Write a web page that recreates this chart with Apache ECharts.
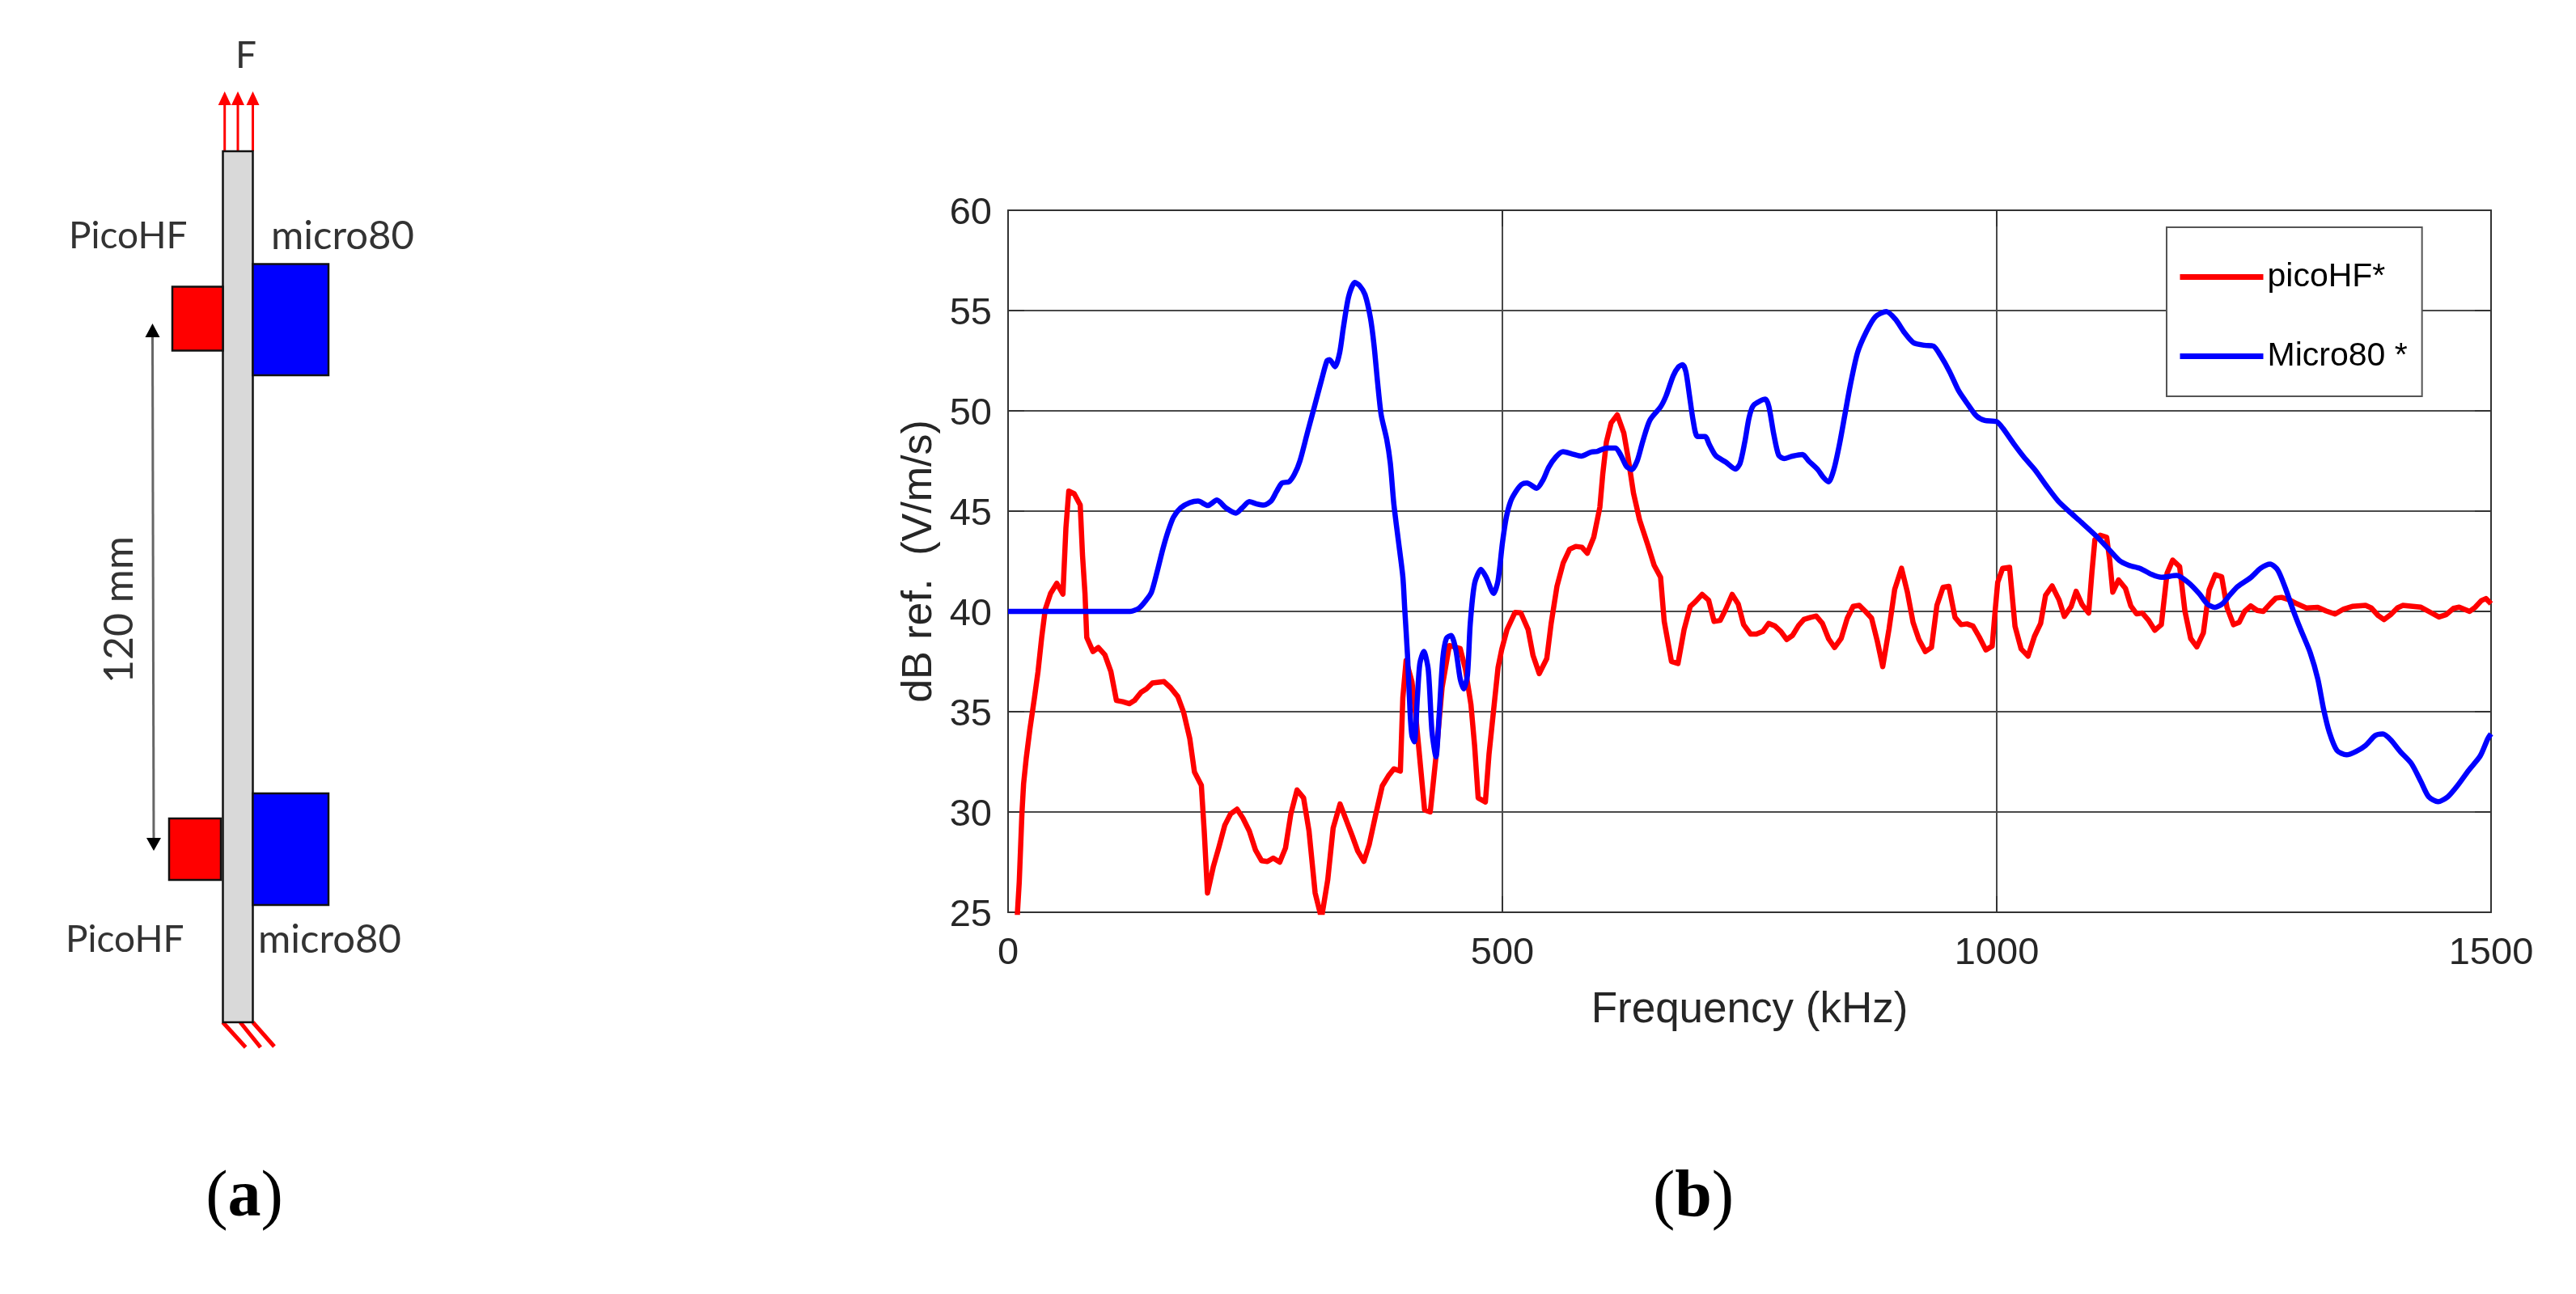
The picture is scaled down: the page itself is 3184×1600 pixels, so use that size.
<!DOCTYPE html>
<html>

	<head>
		<meta charset="UTF-8">
		<title>picoHF / Micro80</title>
		<script src="https://cdn.jsdelivr.net/npm/echarts@6/dist/echarts.min.js"></script>
		<style>
			body {
				margin: 0;
				background-color: #fff;
			}
			#main {
				width: 3184px;
				height: 1600px;
			}
		</style>
	</head>

	<body>
		<div id="main"></div>
		<script type="text/javascript">
			// values, frequency in kHz, level in dB
			var picoFreq = [8, 9.5, 11.3, 14, 15.7, 18.3, 22, 26.7, 30.3, 34, 37.6, 43, 49.3, 55.5, 58.5, 61.4, 66.9, 73, 75.3, 77.8, 79.6, 85.9, 91.3, 97.9, 104, 109.6, 116, 122.8, 127.9, 134.5, 140, 146, 157.8, 164.4, 171.7, 177.6, 183.8, 188.5, 195.5, 198.4, 201.7, 207.5, 213, 219.2, 225, 231.6, 237.5, 244, 250.3, 256.5, 262.3, 268.2, 274.8, 280.6, 286, 292.3, 298.9, 304.4, 310.6, 317, 323.3, 328.8, 335.8, 341.6, 348.2, 353.7, 359.9, 365.4, 372, 378.5, 384.7, 390.2, 396.8, 399.3, 402.6, 408.5, 412, 415.8, 421.3, 427, 432.8, 439, 446.3, 457.3, 462.7, 468.2, 471.9, 475.5, 482.8, 486.5, 492, 495.6, 499.3, 504.7, 512.8, 518.6, 526, 531, 537.3, 544.9, 549.3, 555.2, 561.4, 568, 574.2, 580.4, 585.9, 592.4, 598.6, 601.5, 605.2, 610, 616.2, 622.8, 627.2, 632.6, 638.8, 647.2, 653.5, 660, 663.7, 671, 677.6, 683.8, 690, 695.5, 702, 708.6, 714.1, 720.3, 725.8, 732.4, 738.6, 744, 751, 756.9, 763.4, 769.3, 775.8, 781.7, 787.5, 793.4, 799.6, 805, 811.7, 817.5, 823.7, 830, 836, 842.7, 848.9, 854.8, 861, 867.2, 873.4, 879.3, 884.7, 891, 896.8, 903.7, 909.6, 915.4, 921.3, 927.8, 934, 939.5, 945.7, 951.6, 957.8, 964, 969.9, 976, 982.3, 989, 995.4, 998.5, 1001, 1006, 1013, 1018.5, 1024.7, 1031.7, 1038.2, 1044.4, 1049.4, 1056, 1063, 1068.4, 1075.3, 1080.3, 1086.5, 1093, 1096.2, 1099.3, 1104.7, 1111.2, 1114.3, 1117.4, 1123.2, 1130.2, 1135.6, 1141.4, 1147.2, 1153.7, 1159.9, 1166.5, 1172.3, 1178, 1185, 1190.4, 1196.2, 1202.4, 1209, 1214.8, 1221, 1227.5, 1232.9, 1239.5, 1245.3, 1250.7, 1256.9, 1263.4, 1269.6, 1276.6, 1282.3, 1288.1, 1295.9, 1303.6, 1313.2, 1324.8, 1333.3, 1342.2, 1351, 1359.6, 1373.1, 1378.9, 1385.9, 1391.7, 1398.3, 1405.2, 1410.6, 1429.1, 1436.9, 1447.3, 1454.3, 1462, 1467.8, 1478.3, 1484, 1490.2, 1494.8, 1500];
			var picoDb = [22, 25, 26.5, 29.9, 31.4, 32.65, 34.1, 35.7, 37, 38.7, 40.1, 40.9, 41.4, 40.86, 44.15, 46, 45.87, 45.3, 42.8, 40.9, 38.7, 38, 38.2, 37.84, 37, 35.56, 35.5, 35.4, 35.56, 35.97, 36.14, 36.43, 36.5, 36.2, 35.75, 34.96, 33.66, 32, 31.33, 29.05, 25.96, 27.25, 28.2, 29.34, 29.9, 30.14, 29.7, 29.05, 28.1, 27.57, 27.53, 27.7, 27.5, 28.2, 29.9, 31.1, 30.7, 29.05, 25.96, 24.7, 26.6, 29.2, 30.4, 29.65, 28.8, 28.05, 27.54, 28.4, 29.9, 31.3, 31.8, 32.15, 32.04, 35.7, 37.55, 36.5, 35, 33, 30.1, 30, 32.75, 36.2, 38.3, 38.15, 37.1, 35.35, 33.3, 30.7, 30.5, 32.9, 35.5, 37.2, 38.1, 39.1, 39.95, 39.93, 39.1, 37.8, 36.9, 37.65, 39.4, 41.25, 42.4, 43.1, 43.24, 43.2, 42.9, 43.7, 45.2, 46.84, 48.45, 49.4, 49.8, 48.9, 47.65, 45.9, 44.56, 43.3, 42.3, 41.7, 39.5, 37.5, 37.4, 39.1, 40.25, 40.5, 40.85, 40.56, 39.5, 39.55, 40.1, 40.85, 40.36, 39.34, 38.87, 38.87, 39, 39.4, 39.27, 39, 38.6, 38.8, 39.3, 39.6, 39.7, 39.77, 39.4, 38.63, 38.2, 38.66, 39.67, 40.25, 40.3, 40, 39.67, 38.5, 37.25, 39.1, 41.1, 42.15, 40.97, 39.45, 38.6, 38, 38.2, 40.3, 41.2, 41.25, 39.7, 39.34, 39.38, 39.27, 38.73, 38.08, 38.27, 40.08, 41.45, 42.15, 42.2, 39.26, 38.13, 37.77, 38.76, 39.4, 40.8, 41.27, 40.58, 39.75, 40.25, 41, 40.33, 39.92, 41.9, 43.58, 43.8, 43.7, 42.56, 40.96, 41.57, 41.15, 40.28, 39.88, 39.92, 39.55, 39.06, 39.34, 41.9, 42.56, 42.23, 40, 38.65, 38.23, 38.93, 41.07, 41.83, 41.73, 40.2, 39.34, 39.46, 40, 40.28, 40.05, 40, 40.38, 40.66, 40.7, 40.58, 40.38, 40.17, 40.2, 40.02, 39.87, 40.12, 40.25, 40.3, 40.17, 39.79, 39.59, 39.83, 40.17, 40.3, 40.21, 40, 39.72, 39.83, 40.15, 40.21, 40, 40.21, 40.54, 40.64, 40.38];

			var microFreq = [0, 123.5, 132.6, 140, 145, 150.9, 156.4, 161.9, 167.3, 174.6, 183.8, 192.2, 202, 211.2, 220.3, 230.5, 236.8, 244, 251.4, 258.7, 266, 271.5, 277, 284.3, 289.7, 295.2, 302.5, 309.8, 317.1, 322.6, 325.2, 330.7, 335.4, 339, 344.5, 350.8, 355.5, 361, 366.5, 370.1, 373.8, 377.4, 382.9, 386.6, 390.2, 394.6, 399.3, 401.2, 404, 406.6, 408.5, 411, 414, 416.5, 420.5, 425, 428.8, 432.8, 436, 439.7, 443.4, 448.1, 452.9, 457.3, 460.9, 464.6, 467.5, 471.9, 478.4, 483.6, 491.2, 495.6, 500, 504, 508.4, 513.9, 519.4, 524.8, 534.7, 541.3, 546.8, 554.1, 561.4, 570.5, 579.7, 589.5, 596.1, 605.2, 614.4, 619.9, 625.4, 630.8, 636.3, 641.8, 649.1, 660, 665.5, 672.8, 678.3, 682.3, 685.6, 689.3, 692.9, 697.3, 705, 709.3, 715.9, 725.8, 735.7, 740.4, 745.2, 749.5, 753.9, 766, 769.6, 774.4, 779.5, 785, 793.4, 803.6, 809.8, 819, 824.4, 829.9, 835.4, 840.9, 846.4, 851.9, 859.2, 868.3, 877.4, 888.4, 897.5, 906.7, 915.8, 926.8, 935.9, 943.2, 952.4, 961.5, 970.6, 979.8, 988, 1000, 1006.2, 1017.8, 1027.4, 1039, 1050.6, 1062.2, 1073.8, 1085.4, 1100.8, 1112.4, 1124, 1133.6, 1145.2, 1156.8, 1166.5, 1181.9, 1193.5, 1205.1, 1212.8, 1220.5, 1228.3, 1236, 1243.7, 1257.2, 1266.9, 1276.6, 1284.3, 1292, 1299.7, 1307.4, 1317.1, 1324.8, 1330.6, 1336.4, 1344.1, 1353.8, 1363.5, 1373.1, 1382.8, 1390.5, 1398.3, 1408, 1419.5, 1429.2, 1436.9, 1446.5, 1456.2, 1465.8, 1477.4, 1489, 1496.7, 1500];
			var microDb = [40, 40, 40.17, 40.58, 40.95, 42, 43.08, 44, 44.7, 45.16, 45.42, 45.5, 45.28, 45.55, 45.16, 44.9, 45.16, 45.47, 45.36, 45.3, 45.5, 45.97, 46.4, 46.47, 46.84, 47.5, 48.86, 50.2, 51.55, 52.5, 52.55, 52.2, 52.9, 54.1, 55.7, 56.4, 56.25, 55.8, 54.64, 53.3, 51.4, 49.8, 48.6, 47.4, 45.36, 43.6, 41.73, 40.14, 37.84, 35, 33.8, 33.5, 35.7, 37.4, 38, 37.1, 34, 32.75, 34.8, 37.65, 38.66, 38.8, 38.08, 36.64, 36.14, 36.8, 39.4, 41.4, 42.1, 41.7, 40.9, 41.54, 43.4, 44.7, 45.5, 46, 46.33, 46.4, 46.14, 46.57, 47.18, 47.7, 47.96, 47.85, 47.74, 47.94, 47.98, 48.15, 48.15, 47.78, 47.24, 47.07, 47.5, 48.45, 49.53, 50.2, 50.74, 51.75, 52.2, 52.3, 51.95, 50.74, 49.53, 48.72, 48.72, 48.32, 47.76, 47.45, 47.1, 47.38, 48.45, 49.66, 50.27, 50.58, 50.2, 48.86, 47.78, 47.62, 47.74, 47.82, 47.5, 47.07, 46.7, 46.46, 47.1, 48.32, 49.8, 51.28, 52.9, 53.96, 54.7, 54.95, 54.57, 53.9, 53.4, 53.27, 53.23, 52.75, 51.95, 51, 50.34, 49.73, 49.52, 49.46, 49.13, 48.32, 47.7, 47.04, 46.24, 45.5, 44.96, 44.45, 43.75, 43.15, 42.54, 42.3, 42.14, 41.84, 41.7, 41.79, 41.45, 40.87, 40.38, 40.2, 40.38, 40.83, 41.24, 41.7, 42.15, 42.36, 42.06, 41.16, 40.08, 39.1, 37.94, 36.62, 35.13, 33.98, 33.07, 32.85, 33.02, 33.32, 33.81, 33.89, 33.61, 33.02, 32.41, 31.5, 30.76, 30.51, 30.76, 31.3, 32.08, 32.79, 33.65, 33.9];

			var picoName = "picoHF*";
			var microName = "Micro80 *";
			var labelColor = "#262626";
			var gridColor = "#4a4a4a";
			var frameColor = "#333";

			function pairs(xs, ys) {
				var out = [];
				for(var i = 0; i < xs.length; i++) {
					out.push([xs[i], ys[i]]);
				}
				return out;
			}

			function box(x1, y1, x2, y2, color) {
				return {
					type: 'rect',
					shape: { x: x1, y: y1, width: x2 - x1, height: y2 - y1 },
					style: { fill: color, stroke: '#111', lineWidth: 2.5 }
				};
			}

			function seg(x1, y1, x2, y2, color, width) {
				return {
					type: 'line',
					shape: { x1: x1, y1: y1, x2: x2, y2: y2 },
					style: { stroke: color, lineWidth: width }
				};
			}

			function head(x, tipY, baseY, half, color) {
				return {
					type: 'polygon',
					shape: { points: [[x, tipY], [x - half, baseY], [x + half, baseY]] },
					style: { fill: color }
				};
			}

			function label(text, x, y, size, rotation) {
				return {
					type: 'text',
					x: x,
					y: y,
					rotation: rotation || 0,
					style: {
						text: text,
						fill: '#333',
						font: size + 'px Lato',
						textAlign: 'left',
						textVerticalAlign: 'middle'
					}
				};
			}

			function caption(letter, x, y) {
				return {
					type: 'text',
					x: x,
					y: y,
					style: {
						text: '{p|(}{b|' + letter + '}{p|)}',
						textAlign: 'center',
						textVerticalAlign: 'middle',
						rich: {
							p: { font: '82px "Liberation Serif"', fill: '#000' },
							b: { font: 'bold 82px "Liberation Serif"', fill: '#000' }
						}
					}
				};
			}

			// the beam sketch on the left, not data
			var sketch = [
				seg(277.7, 187, 277.7, 125, '#f00', 3),
				seg(294, 187, 294, 125, '#f00', 3),
				seg(312.5, 187, 312.5, 125, '#f00', 3),
				head(277.7, 113, 130, 8, '#f00'),
				head(294, 113, 130, 8, '#f00'),
				head(312.5, 113, 130, 8, '#f00'),
				seg(275.4, 1264, 303.6, 1295, '#f00', 5),
				seg(297, 1264, 322, 1295, '#f00', 5),
				seg(312.5, 1264, 339, 1294, '#f00', 5),
				box(275.5, 187, 312.5, 1264, '#d9d9d9'),
				box(213, 354.5, 275.5, 433.5, '#f00'),
				box(312.5, 326.5, 406, 464, '#00f'),
				box(209, 1012, 273, 1088, '#f00'),
				box(312.5, 981, 406, 1119, '#00f'),
				seg(188.5, 412, 190, 1040, '#666', 3),
				head(188.5, 400, 417, 9, '#000'),
				head(190, 1052, 1036, 9, '#000'),
				label('F', 291, 69, 46),
				label('PicoHF', 85, 292, 46),
				label('micro80', 335, 292, 49),
				label('PicoHF', 81, 1162, 46),
				label('micro80', 319, 1162, 49),
				label('120 mm', 148, 845, 50, Math.PI / 2),
				caption('a', 302, 1482),
				caption('b', 2093, 1482)
			];

			var myChart = echarts.init(document.getElementById('main'));

			var option = {
				backgroundColor: '#fff',
				animation: false,
				textStyle: { fontFamily: 'Liberation Sans' },
				grid: {
					left: 1246,
					top: 260,
					width: 1833,
					height: 868,
					containLabel: false
				},
				legend: {
					orient: 'vertical',
					left: 2678,
					top: 281,
					padding: [41, 18, 29, 13],
					itemWidth: 103,
					itemHeight: 14,
					itemGap: 57,
					lineStyle: { width: 7 },
					itemStyle: { opacity: 0 },
					backgroundColor: '#fff',
					borderColor: '#555',
					borderWidth: 2,
					textStyle: { fontSize: 41, color: '#000', fontFamily: 'Liberation Sans' },
					itemTextGap: 15,
					data: [picoName, microName]
				},
				xAxis: [{
					type: 'value',
					min: 0,
					max: 1500,
					interval: 500,
					name: 'Frequency (kHz)',
					nameLocation: 'middle',
					nameGap: 95,
					nameTextStyle: { fontSize: 53, color: labelColor },
					axisLine: { onZero: false, lineStyle: { color: frameColor, width: 2 } },
					axisTick: { inside: true, length: 20, lineStyle: { color: frameColor, width: 2 } },
					axisLabel: {
						fontSize: 47,
						color: labelColor,
						margin: 28,
						formatter: function(v) {
							return String(v);
						}
					},
					splitLine: { show: true, lineStyle: { color: gridColor, width: 2 } }
				}, {
					type: 'value',
					position: 'top',
					min: 0,
					max: 1500,
					interval: 500,
					axisLine: { onZero: false, lineStyle: { color: frameColor, width: 2 } },
					axisTick: { inside: true, length: 20, lineStyle: { color: frameColor, width: 2 } },
					axisLabel: { show: false },
					splitLine: { show: false }
				}],
				yAxis: [{
					type: 'value',
					min: 25,
					max: 60,
					interval: 5,
					name: 'dB ref.  (V/m/s)',
					nameLocation: 'middle',
					nameGap: 78,
					nameTextStyle: { fontSize: 52, color: labelColor },
					axisLine: { onZero: false, lineStyle: { color: frameColor, width: 2 } },
					axisTick: { inside: true, length: 20, lineStyle: { color: frameColor, width: 2 } },
					axisLabel: { fontSize: 47, color: labelColor, margin: 20, verticalAlign: 'top', lineHeight: 8 },
					splitLine: { show: true, lineStyle: { color: gridColor, width: 2 } }
				}, {
					type: 'value',
					position: 'right',
					min: 25,
					max: 60,
					interval: 5,
					axisLine: { onZero: false, lineStyle: { color: frameColor, width: 2 } },
					axisTick: { inside: true, length: 20, lineStyle: { color: frameColor, width: 2 } },
					axisLabel: { show: false },
					splitLine: { show: false }
				}],
				series: [{
					name: picoName,
					type: 'line',
					symbol: 'none',
					lineStyle: { color: '#f00', width: 6.5, join: 'round' },
					itemStyle: { color: '#f00' },
					data: pairs(picoFreq, picoDb)
				}, {
					name: microName,
					type: 'line',
					symbol: 'none',
					smooth: 0.25,
					lineStyle: { color: '#00f', width: 6.5, join: 'round' },
					itemStyle: { color: '#00f' },
					data: pairs(microFreq, microDb)
				}],
				graphic: sketch
			};

			myChart.setOption(option);
		</script>
	</body>

</html>
